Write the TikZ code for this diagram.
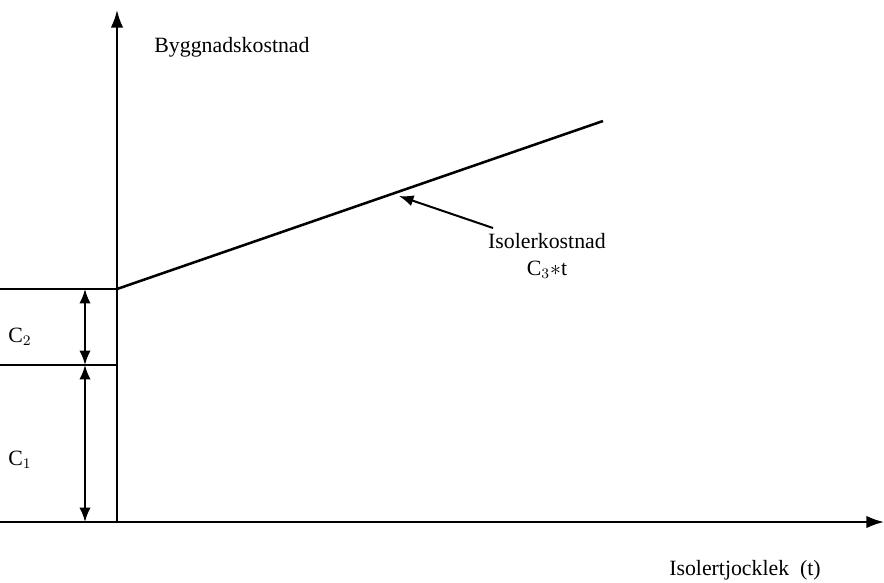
\documentclass[tikz,border=0pt]{standalone}
\usepackage{fontspec}
\setmainfont{Liberation Serif}
\usetikzlibrary{positioning,arrows.meta}
\tikzset{
  axisarrow/.style={-{Latex[length=3.4mm,width=2.4mm]}, line width=1.1pt},
  dimarrow/.style={{Latex[length=2.8mm,width=2.2mm]}-{Latex[length=2.8mm,width=2.2mm]}, line width=1.1pt},
  pointarrow/.style={-{Latex[length=2.8mm,width=2.2mm]}, line width=1.1pt},
  costline/.style={line width=1.4pt},
  guide/.style={line width=1.1pt},
  lbl/.style={font=\fontsize{12}{14}\selectfont, inner sep=0.5pt, align=center}
}
\begin{document}
\begin{tikzpicture}[x=0.55pt, y=-0.55pt]
  \useasboundingbox (0,0) rectangle (884,582);
  % axes
  \coordinate (origin) at (117,522);
  \coordinate (ytop) at (117,10);
  \coordinate (xleft) at (0,522);
  \coordinate (xend) at (884,522);
  \draw[axisarrow] (origin) -- (ytop);
  \draw[axisarrow] (xleft) -- (xend);
  % levels C1 and C1+C2
  \coordinate (c1left) at (0,365);
  \coordinate (c1right) at (117,365);
  \coordinate (c2left) at (0,289);
  \coordinate (c2right) at (117,289);
  \draw[guide] (c1left) -- (c1right);
  \draw[guide] (c2left) -- (c2right);
  \coordinate (dimtop) at (85,289);
  \coordinate (dimmid) at (85,365);
  \coordinate (dimbot) at (85,522);
  \draw[dimarrow] (dimtop) -- (dimmid);
  \draw[dimarrow] (dimmid) -- (dimbot);
  % cost line
  \coordinate (lineend) at (603,121);
  \draw[costline] (c2right) -- (lineend);
  % labels
  \node[lbl] (ylabel) at (232,47) {Byggnadskostnad};
  \node[lbl] (xlabel) at (745,570) {Isolertjocklek\ \ (t)};
  \node[lbl] (c2lbl) at (20,337) {C$_2$};
  \node[lbl] (c1lbl) at (20,460) {C$_1$};
  \node[lbl] (isolbl) at (547,241) {Isolerkostnad};
  \node[lbl] (isoform) at (547,270) {C$_3$$*$t};
  \coordinate (tail) at (493,228);
  \coordinate (pointer) at (399,196);
  \draw[pointarrow] (tail) -- (pointer);
\end{tikzpicture}
\end{document}
